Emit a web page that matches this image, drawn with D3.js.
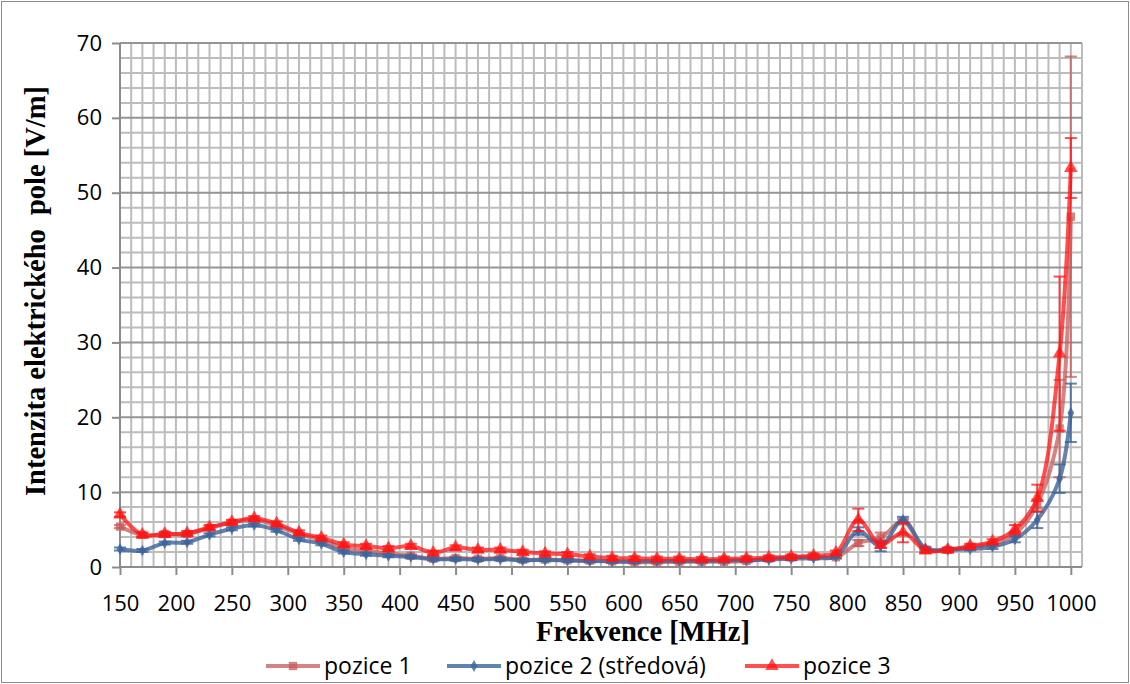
<!DOCTYPE html>
<html>
<head>
<meta charset="utf-8">
<script src="https://cdn.jsdelivr.net/npm/d3@7"></script>
<style>
	body { margin: 0; background: #fff; }
	svg { display: block; }
	.tick-label { font-family: 'Open Sans', sans-serif; font-size: 22px; fill: #000; }
	.axis-title { font-family: 'Liberation Serif', 'Times New Roman', serif; font-size: 28.5px; font-weight: bold; fill: #000; }
	.legend-label { font-family: 'Open Sans', sans-serif; font-size: 23px; fill: #000; }
</style>
</head>
<body>
<svg id="chart"></svg>
<script>
// frequencies [MHz]
const freqs = [150, 170, 190, 210, 230, 250, 270, 290, 310, 330, 350, 370, 390, 410, 430, 450, 470, 490, 510, 530, 550, 570, 590, 610, 630, 650, 670, 690, 710, 730, 750, 770, 790, 810, 830, 850, 870, 890, 910, 930, 950, 970, 990, 1000]

// field strength [V/m]
const pozice1 = [5.4, 4.3, 4.4, 4.4, 5.2, 5.9, 6.3, 5.5, 4.4, 3.6, 2.5, 2.2, 1.8, 1.5, 1.1, 1.2, 1.1, 1.2, 0.95, 1.0, 0.9, 0.85, 0.75, 0.65, 0.65, 0.7, 0.7, 0.7, 0.8, 1.1, 1.3, 1.4, 1.3, 3.2, 3.9, 6.1, 2.3, 2.3, 2.7, 3.1, 4.4, 8.4, 18.5, 46.8]
const pozice2 = [2.4, 2.2, 3.2, 3.3, 4.3, 5.1, 5.6, 4.9, 3.7, 3.1, 2.0, 1.7, 1.5, 1.35, 1.05, 1.05, 1.0, 1.05, 0.9, 0.95, 0.9, 0.8, 0.75, 0.75, 0.8, 0.8, 0.8, 0.85, 0.9, 1.0, 1.1, 1.2, 1.4, 4.8, 2.8, 6.3, 2.5, 2.3, 2.4, 2.7, 3.7, 6.3, 11.8, 20.6]
const pozice3 = [7.0, 4.3, 4.4, 4.5, 5.3, 6.0, 6.5, 5.8, 4.6, 3.9, 3.0, 2.8, 2.5, 2.8, 1.9, 2.6, 2.3, 2.3, 2.0, 1.8, 1.7, 1.4, 1.2, 1.15, 1.1, 1.1, 1.05, 1.1, 1.15, 1.25, 1.35, 1.5, 1.9, 6.3, 2.95, 4.6, 2.2, 2.3, 2.8, 3.4, 5.0, 9.2, 28.5, 53.3]

// error bar half widths [V/m]
const err1 = [0.2, 0.2, 0.2, 0.2, 0.2, 0.2, 0.2, 0.2, 0.2, 0.2, 0.2, 0.2, 0.2, 0.2, 0.2, 0.2, 0.2, 0.2, 0.2, 0.2, 0.2, 0.2, 0.2, 0.2, 0.2, 0.2, 0.2, 0.2, 0.2, 0.2, 0.2, 0.2, 0.2, 0.4, 0.7, 0.3, 0.2, 0.2, 0.2, 0.2, 0.3, 0.6, 6.5, 21.4]
const err2 = [0.2, 0.2, 0.2, 0.2, 0.2, 0.2, 0.2, 0.2, 0.2, 0.2, 0.2, 0.2, 0.2, 0.2, 0.2, 0.2, 0.2, 0.2, 0.2, 0.2, 0.2, 0.2, 0.2, 0.2, 0.2, 0.2, 0.2, 0.2, 0.2, 0.2, 0.2, 0.2, 0.2, 0.5, 0.7, 0.4, 0.2, 0.2, 0.2, 0.3, 0.4, 1.1, 1.9, 3.9]
const err3 = [0.3, 0.3, 0.3, 0.3, 0.3, 0.3, 0.3, 0.3, 0.3, 0.3, 0.3, 0.3, 0.3, 0.3, 0.3, 0.3, 0.3, 0.3, 0.3, 0.3, 0.3, 0.3, 0.3, 0.3, 0.3, 0.3, 0.3, 0.3, 0.3, 0.3, 0.3, 0.3, 0.3, 1.5, 0.4, 1.3, 0.3, 0.3, 0.3, 0.3, 0.6, 1.8, 10.3, 4.0]

const xTicks = [150, 200, 250, 300, 350, 400, 450, 500, 550, 600, 650, 700, 750, 800, 850, 900, 950, 1000]
const yTicks = [0, 10, 20, 30, 40, 50, 60, 70]

const series = [
	{ name: 'pozice 1', values: pozice1, errors: err1, color: 'rgba(200,90,90,0.75)', marker: 'square' },
	{ name: 'pozice 2 (středová)', values: pozice2, errors: err2, color: 'rgba(60,100,155,0.8)', marker: 'diamond' },
	{ name: 'pozice 3', values: pozice3, errors: err3, color: 'rgba(255,20,20,0.75)', marker: 'triangle' },
]

const outerWidth = 1130
const outerHeight = 684
const margin = { top: 43, right: 48, bottom: 117, left: 120 }
const width = outerWidth - margin.left - margin.right
const height = outerHeight - margin.top - margin.bottom

const root = d3.select('#chart')
	.attr('width', outerWidth)
	.attr('height', outerHeight)

// chart border
root.append('rect')
	.attr('x', 1.5)
	.attr('y', 1.5)
	.attr('width', outerWidth - 3)
	.attr('height', outerHeight - 3)
	.attr('fill', '#fff')
	.attr('stroke', '#8c8c8c')

const svg = root.append('g')
	.attr('transform', `translate(${margin.left}, ${margin.top})`)

const x = d3.scaleLinear()
	.domain([150, 1010])
	.range([0, width])

const y = d3.scaleLinear()
	.domain([0, 70])
	.range([height, 0])

// minor grid
svg.append('g')
	.selectAll('line')
	.data(d3.range(150, 1011, 10))
	.join('line')
		.attr('x1', d => x(d))
		.attr('x2', d => x(d))
		.attr('y1', 0)
		.attr('y2', height)
		.attr('stroke', '#bcbcbc')
		.attr('stroke-width', 2)

svg.append('g')
	.selectAll('line')
	.data(d3.range(0, 71, 2).filter(d => d % 10 !== 0))
	.join('line')
		.attr('x1', 0)
		.attr('x2', width)
		.attr('y1', d => y(d))
		.attr('y2', d => y(d))
		.attr('stroke', '#bcbcbc')
		.attr('stroke-width', 2)

// major horizontal grid
svg.append('g')
	.selectAll('line')
	.data(yTicks)
	.join('line')
		.attr('x1', 0)
		.attr('x2', width)
		.attr('y1', d => y(d))
		.attr('y2', d => y(d))
		.attr('stroke', '#959595')
		.attr('stroke-width', 2)

// axes
const xAxis = svg.append('g')
	.attr('transform', `translate(0, ${height})`)
	.call(d3.axisBottom(x)
		.tickValues(xTicks)
		.tickFormat(d3.format('d'))
		.tickSize(8)
		.tickPadding(20)
	)

const yAxis = svg.append('g')
	.call(d3.axisLeft(y)
		.tickValues(yTicks)
		.tickSize(8)
		.tickPadding(10)
	)

for (const axis of [xAxis, yAxis]) {
	axis.select('.domain').attr('stroke', '#8c8c8c').attr('stroke-width', 2)
	axis.selectAll('.tick line').attr('stroke', '#8c8c8c').attr('stroke-width', 2)
	axis.selectAll('.tick text').attr('class', 'tick-label').attr('font-size', null).attr('font-family', null)
}
xAxis.select('.domain').attr('d', `M0,0H${width}`)
yAxis.select('.domain').attr('d', `M0,${height}V0`)

// axis titles
root.append('text')
	.attr('class', 'axis-title')
	.attr('x', 643)
	.attr('y', 641)
	.attr('text-anchor', 'middle')
	.text('Frekvence [MHz]')

root.append('text')
	.attr('class', 'axis-title')
	.attr('transform', 'translate(45, 291) rotate(-90)')
	.attr('text-anchor', 'middle')
	.text('Intenzita elektrického\u00a0 pole [V/m]')

const line = d3.line()
	.x(d => x(d.f))
	.y(d => y(d.v))
	.curve(d3.curveCatmullRom.alpha(0.5))

const symbols = {
	square: d3.symbol().type(d3.symbolSquare).size(70),
	diamond: d3.symbol().type(d3.symbolDiamond).size(40),
	triangle: d3.symbol().type(d3.symbolTriangle).size(80),
}

const plot = svg.append('g')

series.forEach(s => {
	const rows = freqs.map((f, i) => ({ f, v: s.values[i], e: s.errors[i] }))
	const g = plot.append('g')

	// error bars
	const bars = g.selectAll('.err')
		.data(rows)
		.join('g')
			.attr('class', 'err')
			.attr('stroke', s.color)
			.attr('stroke-width', 2)

	bars.append('line')
		.attr('x1', d => x(d.f))
		.attr('x2', d => x(d.f))
		.attr('y1', d => y(d.v - d.e))
		.attr('y2', d => y(d.v + d.e))

	bars.selectAll('.cap')
		.data(d => [d.v - d.e, d.v + d.e].map(v => ({ f: d.f, v })))
		.join('line')
			.attr('class', 'cap')
			.attr('x1', d => x(d.f) - 6)
			.attr('x2', d => x(d.f) + 6)
			.attr('y1', d => y(d.v))
			.attr('y2', d => y(d.v))

	g.append('path')
		.datum(rows)
		.attr('d', line)
		.attr('fill', 'none')
		.attr('stroke', s.color)
		.attr('stroke-width', 4)
		.attr('stroke-linejoin', 'round')

	g.selectAll('.mark')
		.data(rows)
		.join('path')
			.attr('class', 'mark')
			.attr('d', symbols[s.marker])
			.attr('transform', d => `translate(${x(d.f)}, ${y(d.v)})`)
			.attr('fill', s.color)
})

// legend
const legendPos = [266, 447, 745]
const legend = root.append('g')
	.attr('transform', 'translate(0, 666)')

series.forEach((s, i) => {
	const item = legend.append('g')
		.attr('transform', `translate(${legendPos[i]}, 0)`)
	item.append('line')
		.attr('x1', 0)
		.attr('x2', 54)
		.attr('stroke', s.color)
		.attr('stroke-width', 4)
	item.append('path')
		.attr('d', symbols[s.marker])
		.attr('transform', 'translate(27, 0)')
		.attr('fill', s.color)
	item.append('text')
		.attr('class', 'legend-label')
		.attr('x', 58)
		.attr('dy', '0.35em')
		.text(s.name)
})
</script>
</body>
</html>
